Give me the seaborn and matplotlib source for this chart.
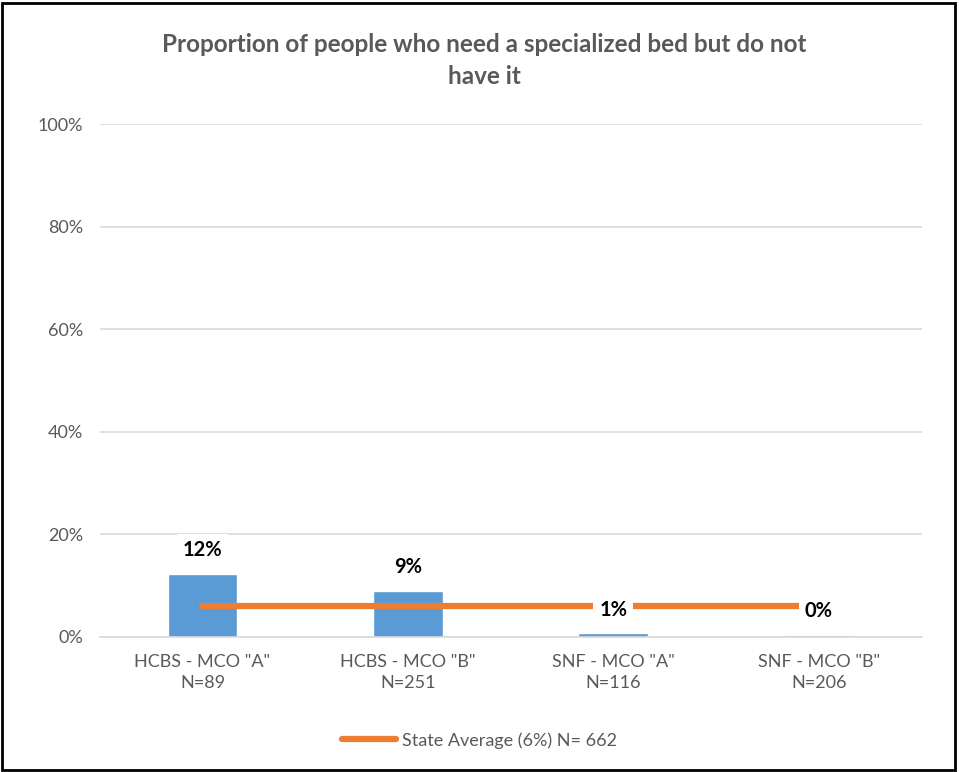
import matplotlib
matplotlib.use("Agg")
import matplotlib.pyplot as plt
import matplotlib.patches as mpatches
import seaborn as sns
import pandas as pd

# ── Data ──────────────────────────────────────────────────────────────────────
CATEGORIES = ['HCBS - MCO "A"', 'HCBS - MCO "B"', 'SNF - MCO "A"', 'SNF - MCO "B"']
COUNTS = [89, 251, 116, 206]
VALUES = [0.123, 0.090, 0.007, 0.004]
LABELS = ["12%", "9%", "1%", "0%"]
STATE_AVG = 0.06
STATE_LABEL = "State Average (6%) N= 662"
TITLE = "Proportion of people who need a specialized bed but do not\nhave it"

BLUE = "#5B9BD5"
ORANGE = "#ED7D31"
GREY = "#595959"

df = pd.DataFrame({"group": CATEGORIES, "value": VALUES})

sns.set_theme(style="white")
plt.rcParams["font.family"] = ["Lato", "DejaVu Sans"]

fig = plt.figure(figsize=(9.59, 7.72), dpi=100)
ax = fig.add_axes([0.104, 0.175, 0.857, 0.664])

# ── Bars ──────────────────────────────────────────────────────────────────────
sns.barplot(data=df, x="group", y="value", color=BLUE, width=0.34,
            saturation=1, ax=ax, zorder=2)

# ── State average line ───────────────────────────────────────────────────────
xs = list(range(len(CATEGORIES)))
ax.plot(xs, [STATE_AVG] * len(xs), color=ORANGE, lw=4.5,
        solid_capstyle="round", zorder=3, label=STATE_LABEL)

# ── Data labels ──────────────────────────────────────────────────────────────
for x, v, lab in zip(xs, VALUES, LABELS):
    ax.annotate(lab, (x, v), xytext=(0, 17), textcoords="offset points",
                ha="center", va="center", fontsize=14.5, fontweight="bold",
                color="black", zorder=5,
                bbox=dict(boxstyle="square,pad=0.3", fc="white", ec="none"))

# ── Axes styling ─────────────────────────────────────────────────────────────
ax.set_ylim(0, 1)
ax.set_xlim(-0.5, len(CATEGORIES) - 0.5)
ax.set_yticks([0, 0.2, 0.4, 0.6, 0.8, 1.0])
ax.set_yticklabels(["0%", "20%", "40%", "60%", "80%", "100%"])
ax.set_xticks(xs)
ax.set_xticklabels([f"{c}\nN={n}" for c, n in zip(CATEGORIES, COUNTS)],
                   linespacing=1.45)
ax.yaxis.grid(True, color="#D9D9D9", lw=1.2, zorder=0)
ax.set_axisbelow(True)
for s in ["top", "right", "left"]:
    ax.spines[s].set_visible(False)
ax.spines["bottom"].set_color("#D9D9D9")
ax.spines["bottom"].set_linewidth(1.2)
ax.tick_params(axis="both", length=0, labelsize=13, colors=GREY)
ax.tick_params(axis="x", pad=12)
ax.tick_params(axis="y", pad=12)
ax.set_xlabel("")
ax.set_ylabel("")

fig.suptitle(TITLE, x=0.505, y=0.957, fontsize=17.5, fontweight="bold",
             color=GREY, linespacing=1.45)

leg = fig.legend(loc="center", bbox_to_anchor=(0.5, 0.041), frameon=False,
                 fontsize=13, handlelength=3.0, handletextpad=0.3)
for t in leg.get_texts():
    t.set_color(GREY)

# ── Outer border ─────────────────────────────────────────────────────────────
fig.patches.append(mpatches.Rectangle((0.002, 0.002), 0.994, 0.994,
                                      transform=fig.transFigure, fill=False,
                                      ec="black", lw=2))

fig.savefig("out.png", dpi=100)
